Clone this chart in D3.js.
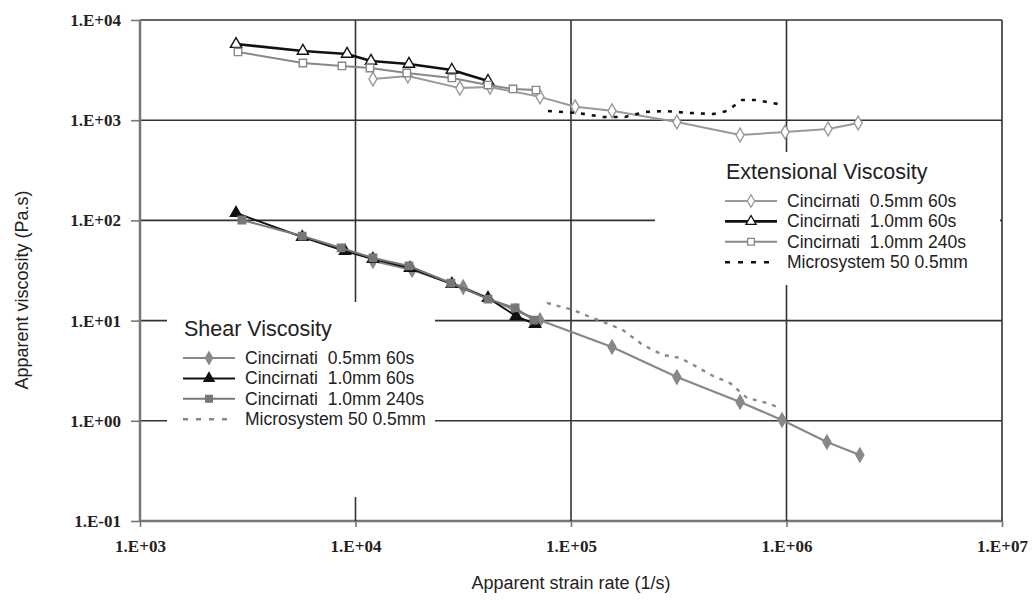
<!DOCTYPE html>
<html>
<head>
  <script src="https://d3js.org/d3.v7.min.js"></script>
  <style>
    body { margin: 0; background: #fff; }
    text { font-family: "Liberation Sans", Arial, sans-serif; fill: #222; }
    .tick-label { font-family: "Liberation Serif", "Times New Roman", serif; font-size: 17px; font-weight: bold; }
  </style>
</head>
<body>
<div id="chart"></div>
<script>
    // axis ticks and labels
    var xTicks = [1e3, 1e4, 1e5, 1e6, 1e7];
    var xTickLabels = ["1.E+03", "1.E+04", "1.E+05", "1.E+06", "1.E+07"];
    var yTicks = [1e-1, 1e0, 1e1, 1e2, 1e3, 1e4];
    var yTickLabels = ["1.E-01", "1.E+00", "1.E+01", "1.E+02", "1.E+03", "1.E+04"];

    // extensional viscosity, [strain rate, viscosity]
    var extThin60 = [[12050, 2580], [17500, 2760], [30500, 2090], [42100, 2140], [71800, 1710], [104500, 1360],
                     [155000, 1240], [310000, 960], [609000, 712], [985000, 762], [1560000, 817], [2150000, 938]];
    var extThick60 = [[2790, 5750], [5700, 4910], [9140, 4580], [11800, 3900], [17700, 3640], [28000, 3170], [41200, 2460]];
    var extThick240 = [[2850, 4800], [5700, 3720], [8650, 3480], [11670, 3320], [17300, 2960], [28000, 2640],
                       [41200, 2240], [53800, 2050], [68800, 2000]];
    var extMicro = [[78200, 1236], [107700, 1180], [140600, 1077], [178000, 1077], [220000, 1208], [273000, 1236],
                    [356000, 1180], [456000, 1153], [530000, 1236], [622000, 1592], [722000, 1592], [914000, 1452]];

    // shear viscosity, [strain rate, viscosity]
    var shearThin60 = [[12050, 39.4], [18300, 32.0], [31600, 21.6], [55600, 12.5], [71800, 10.1], [155000, 5.46],
                       [310000, 2.73], [609000, 1.54], [953000, 1.02], [1540000, 0.614], [2190000, 0.456]];
    var shearThick60 = [[2790, 118.5], [5660, 68.2], [8940, 49.5], [12050, 41.2], [17900, 33.5], [28000, 23.2],
                        [41200, 16.8], [55600, 11.1], [68100, 9.25]];
    var shearThick240 = [[2970, 101], [5660, 69.8], [8570, 53.1], [12050, 42.2], [17700, 35.1], [27700, 23.7],
                         [41200, 16.4], [55000, 13.4], [67300, 10.1]];
    var shearMicro = [[77400, 15.0], [102000, 12.8], [122000, 10.9], [141000, 9.7], [174000, 8.05], [216000, 5.7],
                      [267000, 4.54], [321000, 4.24], [385000, 3.44], [456000, 2.80], [547000, 2.38], [656000, 1.69],
                      [813000, 1.50], [914000, 1.37]];

    var extNames = ["Cincirnati  0.5mm 60s", "Cincirnati  1.0mm 60s", "Cincirnati  1.0mm 240s", "Microsystem 50 0.5mm"];
    var shearNames = ["Cincirnati  0.5mm 60s", "Cincirnati  1.0mm 60s", "Cincirnati  1.0mm 240s", "Microsystem 50 0.5mm"];

    var svg = d3.select("#chart")
                .append("svg")
                .attr("width", 1036)
                .attr("height", 600);

    var xScale = d3.scaleLog().domain([1e3, 1e7]).range([140, 1002]);
    var yScale = d3.scaleLog().domain([1e-1, 1e4]).range([521, 20]);

    // grid lines
    svg.append("g")
       .selectAll("line")
       .data(yTicks)
       .enter().append("line")
       .attr("x1", xScale(1e3)).attr("x2", xScale(1e7))
       .attr("y1", d => yScale(d)).attr("y2", d => yScale(d))
       .attr("stroke", d => d === 1e-1 ? "#777" : "#333")
       .attr("stroke-width", d => d === 1e-1 ? 2.5 : 1.6);

    svg.append("g")
       .selectAll("line")
       .data(xTicks)
       .enter().append("line")
       .attr("x1", d => xScale(d)).attr("x2", d => xScale(d))
       .attr("y1", yScale(1e4)).attr("y2", yScale(1e-1))
       .attr("stroke", d => d === 1e3 ? "#777" : "#333")
       .attr("stroke-width", d => d === 1e3 ? 2.5 : 1.6);

    // axes
    var xAxis = d3.axisBottom(xScale)
                  .tickValues(xTicks)
                  .tickSize(6)
                  .tickFormat((d, i) => xTickLabels[i]);
    var yAxis = d3.axisLeft(yScale)
                  .tickValues(yTicks)
                  .tickSize(9)
                  .tickFormat((d, i) => yTickLabels[i]);

    var gx = svg.append("g")
                .attr("transform", `translate(0, ${yScale(1e-1)})`)
                .call(xAxis);
    var gy = svg.append("g")
                .attr("transform", `translate(${xScale(1e3)}, 0)`)
                .call(yAxis);

    [gx, gy].forEach(function(g) {
      g.select(".domain").remove();
      g.selectAll(".tick line").attr("stroke", "#777").attr("stroke-width", 1.6);
      g.selectAll(".tick text").attr("class", "tick-label").attr("fill", "#333");
    });
    gx.selectAll(".tick text").attr("dy", "1.3em");
    gy.selectAll(".tick text").attr("x", -19);

    // axis titles
    svg.append("text")
       .attr("x", 571)
       .attr("y", 589)
       .style("text-anchor", "middle")
       .style("font-size", "18px")
       .text("Apparent strain rate (1/s)");

    svg.append("text")
       .attr("transform", "rotate(-90)")
       .attr("x", -290)
       .attr("y", 28)
       .style("text-anchor", "middle")
       .style("font-size", "18px")
       .text("Apparent viscosity (Pa.s)");

    var line = d3.line()
                 .x(d => xScale(d[0]))
                 .y(d => yScale(d[1]));

    // series styles: extensional markers open, shear markers filled
    var extSeries = [
      { data: extThin60, stroke: "#999", width: 2, shape: d3.symbolDiamond, fill: "#fff", dash: null },
      { data: extThick60, stroke: "#111", width: 2.6, shape: d3.symbolTriangle, fill: "#fff", dash: null },
      { data: extThick240, stroke: "#888", width: 2, shape: d3.symbolSquare, fill: "#fff", dash: null },
      { data: extMicro, stroke: "#111", width: 2.6, shape: null, fill: null, dash: "4,7" }
    ];
    var shearSeries = [
      { data: shearThin60, stroke: "#888", width: 2.2, shape: d3.symbolDiamond, fill: "#888", dash: null },
      { data: shearThick60, stroke: "#111", width: 2, shape: d3.symbolTriangle, fill: "#111", dash: null },
      { data: shearThick240, stroke: "#777", width: 2, shape: d3.symbolSquare, fill: "#777", dash: null },
      { data: shearMicro, stroke: "#888", width: 2.4, shape: null, fill: null, dash: "4,6" }
    ];

    function drawSeries(s) {
      svg.append("path")
         .datum(s.data)
         .attr("fill", "none")
         .attr("stroke", s.stroke)
         .attr("stroke-width", s.width)
         .attr("stroke-dasharray", s.dash)
         .attr("d", line);
      if (s.shape) {
        svg.append("g")
           .selectAll("path")
           .data(s.data)
           .enter().append("path")
           .attr("transform", d => `translate(${xScale(d[0])}, ${yScale(d[1])})`)
           .attr("d", d3.symbol().type(s.shape).size(55))
           .attr("fill", s.fill)
           .attr("stroke", s.stroke)
           .attr("stroke-width", 1.4);
      }
    }
    shearSeries.forEach(drawSeries);
    extSeries.forEach(drawSeries);

    // legend boxes (white, they hide the grid behind them)
    function drawLegend(box, pad, titleY, rowY, title, names, series) {
      var g = svg.append("g").attr("transform", `translate(${box[0]}, ${box[1]})`);
      g.append("rect").attr("width", box[2]).attr("height", box[3]).attr("fill", "#fff");
      g.append("text")
       .attr("x", pad + 1).attr("y", titleY)
       .style("font-size", "21.5px")
       .text(title);
      names.forEach(function(name, i) {
        var s = series[i];
        var yy = rowY + i * 20.4;
        g.append("line")
         .attr("x1", pad).attr("x2", pad + 52)
         .attr("y1", yy).attr("y2", yy)
         .attr("stroke", s.stroke)
         .attr("stroke-width", s.width)
         .attr("stroke-dasharray", s.dash ? "5,8" : null);
        if (s.shape) {
          g.append("path")
           .attr("transform", `translate(${pad + 26}, ${yy})`)
           .attr("d", d3.symbol().type(s.shape).size(45))
           .attr("fill", s.fill)
           .attr("stroke", s.stroke)
           .attr("stroke-width", 1.3);
        }
        g.append("text")
         .attr("x", pad + 62).attr("y", yy + 6)
         .attr("xml:space", "preserve")
         .style("font-size", "17.5px")
         .text(name);
      });
    }

    drawLegend([655, 152, 345, 133], 70, 27, 49, "Extensional Viscosity", extNames, extSeries);
    drawLegend([167, 302, 268, 195], 16, 34, 56, "Shear Viscosity", shearNames, shearSeries);
</script>
</body>
</html>
